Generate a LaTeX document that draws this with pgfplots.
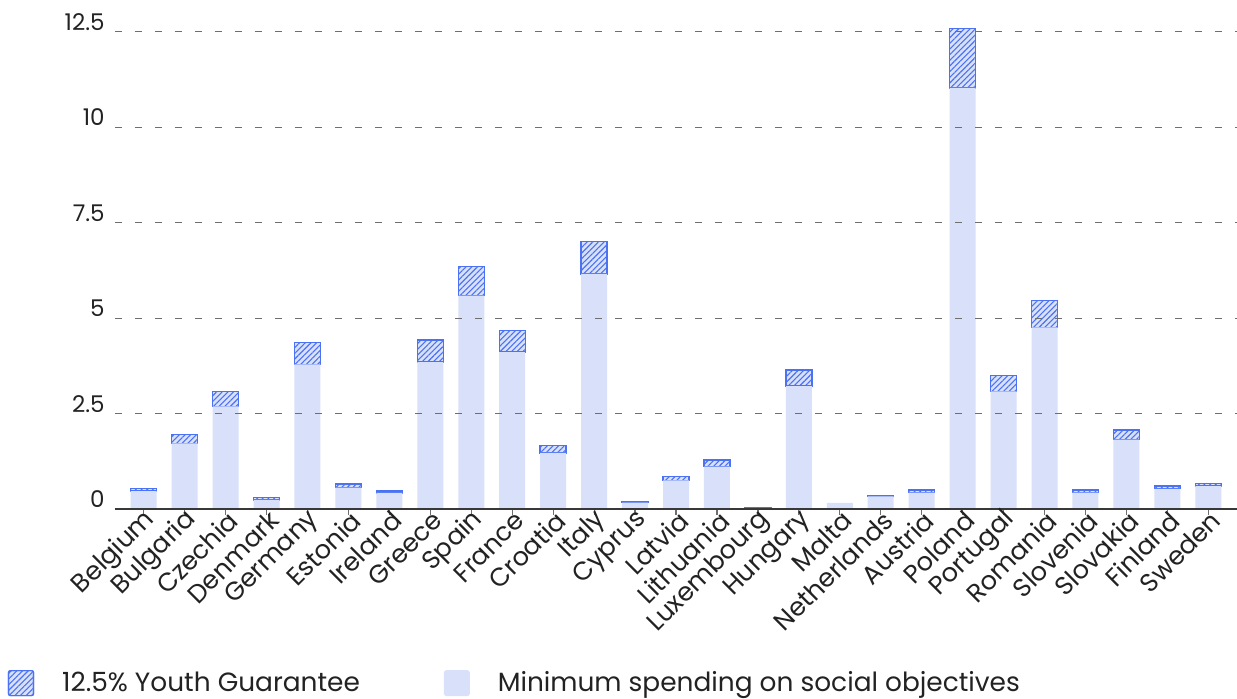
\documentclass[border=0pt]{standalone}
\usepackage{pgfplots}
\pgfplotsset{compat=1.18}
\usepackage{pgfplotstable}
\usetikzlibrary{patterns.meta}
\usepackage{fontspec}
\setmainfont{Poppins}
\definecolor{lightfill}{HTML}{D9E0FA}
\definecolor{blueline}{HTML}{4A72F2}
\definecolor{txt}{HTML}{222222}
\definecolor{gridc}{HTML}{6E6E6E}

\pgfplotstableread{
idx country minsp yg
0 Belgium 0.47 0.06
1 Bulgaria 1.72 0.23
2 Czechia 2.69 0.39
3 Denmark 0.24 0.06
4 Germany 3.79 0.57
5 Estonia 0.56 0.09
6 Ireland 0.42 0.05
7 Greece 3.85 0.58
8 Spain 5.59 0.77
9 France 4.11 0.56
10 Croatia 1.47 0.19
11 Italy 6.16 0.84
12 Cyprus 0.17 0.03
13 Latvia 0.75 0.10
14 Lithuania 1.11 0.17
15 Luxembourg 0.02 0.015
16 Hungary 3.22 0.42
17 Malta 0.16 0
18 Netherlands 0.33 0.03
19 Austria 0.43 0.07
20 Poland 11.03 1.56
21 Portugal 3.08 0.42
22 Romania 4.76 0.70
23 Slovenia 0.43 0.07
24 Slovakia 1.82 0.25
25 Finland 0.53 0.07
26 Sweden 0.60 0.07
}\datatable

\begin{document}
\begin{tikzpicture}
\begin{axis}[
  name=ax,
  scale only axis,
  width=561pt, height=240.5pt,
  xmin=-0.7, xmax=26.7,
  ymin=0, ymax=12.6,
  ybar stacked, bar width=13pt,
  axis on top,
  axis lines*=left,
  y axis line style={draw=none},
  x axis line style={draw=txt!90, line width=1pt},
  xtick=data,
  xticklabels={Belgium,Bulgaria,Czechia,Denmark,Germany,Estonia,Ireland,Greece,Spain,France,Croatia,Italy,Cyprus,Latvia,Lithuania,Luxembourg,Hungary,Malta,Netherlands,Austria,Poland,Portugal,Romania,Slovenia,Slovakia,Finland,Sweden},
  xtick align=outside,
  major tick length=3pt,
  xtick style={draw=gridc, line width=0.6pt},
  ytick={0,2.5,5,7.5,10,12.5},
  ytick style={draw=none},
  /pgf/number format/assume math mode=true,
  xticklabel style={rotate=45, anchor=east, font=\fontsize{12.8}{14}\selectfont, text=txt, inner sep=1pt, yshift=-3pt, xshift=3.5pt},
  yticklabel style={anchor=south east, font=\fontsize{11.5}{13}\selectfont, text=txt, inner sep=0pt, xshift=-5pt, yshift=0.5pt},
  ymajorgrids,
  grid style={draw=gridc, line width=0.55pt, dash pattern=on 3.5pt off 6.5pt},
  legend columns=2,
  legend cell align=left,
  legend style={at={(axis description cs:-0.0954,-0.362)}, anchor=west, draw=none, fill=none,
    inner sep=0pt, outer sep=0pt, font=\fontsize{13.2}{15}\selectfont, text=txt,
    /tikz/every even column/.append style={column sep=28pt},
    nodes={inner xsep=14pt}},
  legend image code/.code={\draw[#1] (0pt,-6.25pt) rectangle (12.5pt,6.25pt);},
]
\addlegendimage{fill=lightfill, draw=blueline, line width=0.6pt, rounded corners=1pt, postaction={pattern={Lines[angle=45,distance=2pt,line width=0.55pt]}, pattern color=blueline}}
\addlegendentry{12.5\% Youth Guarantee}
\addlegendimage{fill=lightfill, draw=lightfill, rounded corners=1pt}
\addlegendentry{Minimum spending on social objectives}
\addplot[fill=lightfill, draw=none, forget plot] table[x=idx, y=minsp] {\datatable};
\addplot[fill=lightfill, draw=blueline, line width=0.7pt, forget plot, postaction={pattern={Lines[angle=45,distance=2pt,line width=0.55pt]}, pattern color=blueline}] table[x=idx, y=yg] {\datatable};
\end{axis}
\pgfresetboundingbox
\path[use as bounding box] ([shift={(-57.5pt,-95pt)}]ax.south west) rectangle ([shift={(0pt,14pt)}]ax.north east);
\end{tikzpicture}
\end{document}
